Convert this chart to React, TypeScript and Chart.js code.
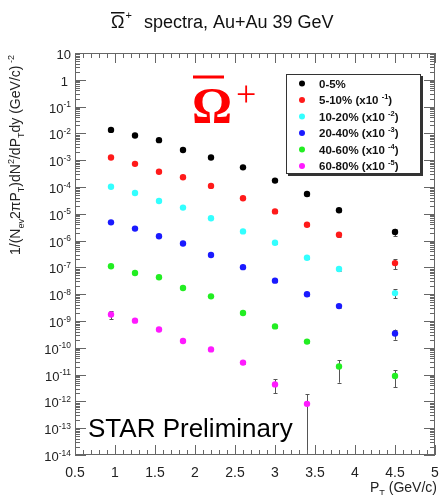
import React, { useEffect, useRef } from "react";
import { Chart, registerables } from "chart.js";

Chart.register(...registerables);

// ---------- data ----------
const PT = [0.95, 1.25, 1.55, 1.85, 2.2, 2.6, 3.0, 3.4, 3.8, 4.5];

const CENT_0_5 = [1.35e-2, 8.3e-3, 5.6e-3, 2.4e-3, 1.26e-3, 5.4e-4, 1.73e-4, 5.5e-5, 1.35e-5, 2.1e-6];
const CENT_0_5_ERR = [0, 0, 0, 0, 0, 0, 2.0e-5, 7e-6, 1.5e-6, 0.65e-6];

const CENT_5_10 = [1.26e-3, 7.3e-4, 3.7e-4, 2.3e-4, 1.1e-4, 3.8e-5, 1.23e-5, 3.9e-6, 1.66e-6, 1.45e-7];
const CENT_5_10_ERR = [0, 0, 0, 0, 0, 0, 1.2e-6, 4e-7, 2.5e-7, 0.6e-7];

const CENT_10_20 = [1.02e-4, 6.0e-5, 3.0e-5, 1.7e-5, 6.8e-6, 2.2e-6, 8.3e-7, 2.3e-7, 8.7e-8, 1.1e-8];
const CENT_10_20_ERR = [0, 0, 0, 0, 0, 0, 0.8e-7, 2.5e-8, 1.2e-8, 0.4e-8];

const CENT_20_40 = [4.8e-6, 2.8e-6, 1.45e-6, 7.8e-7, 2.9e-7, 1.02e-7, 3.2e-8, 1.0e-8, 3.6e-9, 3.4e-10];
const CENT_20_40_ERR = [0, 0, 0, 0, 0, 0, 3e-9, 1.2e-9, 5e-10, 1.4e-10];

const CENT_40_60 = [1.1e-7, 6.2e-8, 4.3e-8, 1.7e-8, 8.3e-9, 2.0e-9, 6.3e-10, 1.7e-10, 2.0e-11, 8.9e-12];
const CENT_40_60_ERR = [0, 0, 0, 0, 0, 0, 6e-11, 2.5e-11, 1.5e-11, 5.5e-12];

const CENT_60_80 = [1.74e-9, 1.03e-9, 4.8e-10, 1.8e-10, 8.7e-11, 2.8e-11, 4.3e-12, 8.1e-13];
const CENT_60_80_ERR = [0.6e-9, 0, 0, 0, 0, 0.4e-11, 2.3e-12, 1.05e-12];

const SERIES_LABELS = ["0-5%", "5-10% (x10", "10-20% (x10", "20-40% (x10", "40-60% (x10", "60-80% (x10"];
const SERIES_EXPONENTS = ["", "-1", "-2", "-3", "-4", "-5"];
const SERIES_COLORS = ["#000000", "#ff1a1a", "#33ffff", "#1a1aff", "#22ee22", "#ff1aff"];

const X_TICKS = [0.5, 1, 1.5, 2, 2.5, 3, 3.5, 4, 4.5, 5];
const X_TICK_LABELS = ["0.5", "1", "1.5", "2", "2.5", "3", "3.5", "4", "4.5", "5"];
const Y_EXPONENTS = [1, 0, -1, -2, -3, -4, -5, -6, -7, -8, -9, -10, -11, -12, -13, -14];

const TITLE_TEXT = " spectra, Au+Au 39 GeV";
const WATERMARK = "STAR Preliminary";

// ---------- helpers ----------
type Seg = { t: string; k?: "sup" | "sub" };

const SANS = '"Liberation Sans", Arial, sans-serif';
const SERIF = '"Liberation Serif", "Times New Roman", serif';

function segFont(size: number, weight: string, fam: string, k?: string) {
  const s = k ? size * 0.65 : size;
  return `${weight} ${s}px ${fam}`;
}

function richWidth(ctx: CanvasRenderingContext2D, segs: Seg[], size: number, weight: string, fam: string) {
  let w = 0;
  for (const s of segs) {
    ctx.font = segFont(size, weight, fam, s.k);
    w += ctx.measureText(s.t).width;
  }
  return w;
}

function drawRich(
  ctx: CanvasRenderingContext2D,
  segs: Seg[],
  x: number,
  y: number,
  size: number,
  align: "left" | "right" | "center",
  weight: string,
  fam: string,
  color: string
) {
  const w = richWidth(ctx, segs, size, weight, fam);
  let cx = align === "left" ? x : align === "right" ? x - w : x - w / 2;
  ctx.fillStyle = color;
  ctx.textAlign = "left";
  ctx.textBaseline = "alphabetic";
  for (const s of segs) {
    ctx.font = segFont(size, weight, fam, s.k);
    const dy = s.k === "sup" ? -size * 0.42 : s.k === "sub" ? size * 0.25 : 0;
    ctx.fillText(s.t, cx, y + dy);
    cx += ctx.measureText(s.t).width;
  }
}

const ERRS = [CENT_0_5_ERR, CENT_5_10_ERR, CENT_10_20_ERR, CENT_20_40_ERR, CENT_40_60_ERR, CENT_60_80_ERR];

const decorPlugin = {
  id: "rootDecor",
  beforeDatasetsDraw(chart: any) {
    const ctx: CanvasRenderingContext2D = chart.ctx;
    const { left, right, top, bottom } = chart.chartArea;
    const xs = chart.scales.x;
    const ys = chart.scales.y;
    ctx.save();
    ctx.beginPath();
    ctx.rect(left, top, right - left, bottom - top);
    ctx.clip();
    ctx.strokeStyle = "#555555";
    ctx.lineWidth = 1;
    chart.data.datasets.forEach((ds: any, i: number) => {
      const errs = ERRS[i];
      ds.data.forEach((p: any, j: number) => {
        const e = errs[j];
        if (!e) return;
        const px = Math.round(xs.getPixelForValue(p.x)) + 0.5;
        const yHi = ys.getPixelForValue(p.y + e);
        const yLo = p.y - e > 0 ? ys.getPixelForValue(p.y - e) : bottom + 2;
        ctx.beginPath();
        ctx.moveTo(px, yHi);
        ctx.lineTo(px, yLo);
        ctx.moveTo(px - 2, Math.round(yHi) + 0.5);
        ctx.lineTo(px + 2, Math.round(yHi) + 0.5);
        if (p.y - e > 0) {
          ctx.moveTo(px - 2, Math.round(yLo) + 0.5);
          ctx.lineTo(px + 2, Math.round(yLo) + 0.5);
        }
        ctx.stroke();
      });
    });
    ctx.restore();
  },
  afterDraw(chart: any) {
    const ctx: CanvasRenderingContext2D = chart.ctx;
    const { left, right, top, bottom } = chart.chartArea;
    const xs = chart.scales.x;
    const ys = chart.scales.y;
    ctx.save();

    // frame
    ctx.strokeStyle = "#666666";
    ctx.lineWidth = 1;
    ctx.strokeRect(left + 0.5, top + 0.5, right - left - 1, bottom - top - 1);

    // x ticks (bottom and top, pointing inward)
    ctx.beginPath();
    for (let k = 0; k <= 45; k++) {
      const v = 0.5 + k * 0.1;
      const major = k % 5 === 0;
      const len = major ? 10 : 5;
      const px = Math.round(xs.getPixelForValue(v)) + 0.5;
      ctx.moveTo(px, bottom);
      ctx.lineTo(px, bottom - len);
      ctx.moveTo(px, top);
      ctx.lineTo(px, top + len);
    }
    // y ticks (left and right, pointing inward)
    for (let e = -14; e <= 0; e++) {
      for (let m = 1; m <= 9; m++) {
        const v = m * Math.pow(10, e);
        const py = Math.round(ys.getPixelForValue(v)) + 0.5;
        const len = m === 1 ? 11 : 5;
        ctx.moveTo(left, py);
        ctx.lineTo(left + len, py);
        ctx.moveTo(right, py);
        ctx.lineTo(right - len, py);
      }
    }
    ctx.stroke();

    // y tick labels
    Y_EXPONENTS.forEach((e) => {
      const py = ys.getPixelForValue(Math.pow(10, e));
      let segs: Seg[];
      if (e === 1) segs = [{ t: "10" }];
      else if (e === 0) segs = [{ t: "1" }];
      else segs = [{ t: "10" }, { t: String(e), k: "sup" }];
      drawRich(ctx, segs, e === 0 ? 68 : 71, py + 6, 13, "right", "normal", SANS, "#222222");
    });

    // x tick labels
    ctx.font = `14px ${SANS}`;
    ctx.fillStyle = "#222222";
    ctx.textAlign = "center";
    ctx.textBaseline = "alphabetic";
    X_TICKS.forEach((v, i) => {
      ctx.fillText(X_TICK_LABELS[i], xs.getPixelForValue(v), 477);
    });

    // x axis title
    drawRich(ctx, [{ t: "P" }, { t: "T", k: "sub" }, { t: " (GeV/c)" }], 437, 492, 14, "right", "normal", SANS, "#222222");

    // y axis title (rotated)
    ctx.save();
    ctx.translate(20, 155);
    ctx.rotate(-Math.PI / 2);
    drawRich(
      ctx,
      [
        { t: "1/(N" },
        { t: "ev", k: "sub" },
        { t: "2\u03c0P" },
        { t: "T", k: "sub" },
        { t: ")dN" },
        { t: "2", k: "sup" },
        { t: "/dP" },
        { t: "T", k: "sub" },
        { t: "dy (GeV/c)" },
        { t: " -2", k: "sup" },
      ],
      0,
      0,
      14,
      "center",
      "normal",
      SANS,
      "#222222"
    );
    ctx.restore();

    // title
    ctx.fillStyle = "#111111";
    ctx.font = `18px ${SANS}`;
    ctx.textAlign = "left";
    ctx.textBaseline = "alphabetic";
    ctx.fillText("\u03a9", 111, 28);
    const ow = ctx.measureText("\u03a9").width;
    ctx.fillRect(111, 12, ow, 1.5);
    ctx.font = `11px ${SANS}`;
    ctx.fillText("+", 111 + ow + 1, 19);
    ctx.font = `18px ${SANS}`;
    ctx.fillText(TITLE_TEXT, 139, 28);

    // big red Omega label
    ctx.fillStyle = "#ff0000";
    ctx.font = `bold 50px ${SERIF}`;
    ctx.textAlign = "left";
    ctx.fillText("\u03a9", 192, 122);
    const bw = ctx.measureText("\u03a9").width;
    ctx.fillRect(193, 75.5, 31, 3);
    ctx.font = `36px ${SERIF}`;
    ctx.fillText("+", 192 + bw + 4, 106);

    // legend box
    const lx = 286, ly = 74, lw = 135, lh = 100;
    ctx.fillStyle = "#333333";
    ctx.fillRect(lx + 2, ly + 2, lw, lh);
    ctx.fillStyle = "#ffffff";
    ctx.fillRect(lx, ly, lw, lh);
    ctx.strokeStyle = "#333333";
    ctx.lineWidth = 1;
    ctx.strokeRect(lx + 0.5, ly + 0.5, lw - 1, lh - 1);
    SERIES_LABELS.forEach((lab, i) => {
      const ry = 83.5 + i * 16.5;
      ctx.fillStyle = SERIES_COLORS[i];
      ctx.beginPath();
      ctx.arc(302, ry, 3, 0, Math.PI * 2);
      ctx.fill();
      const segs: Seg[] = SERIES_EXPONENTS[i]
        ? [{ t: lab + " " }, { t: SERIES_EXPONENTS[i], k: "sup" }, { t: ")" }]
        : [{ t: lab }];
      drawRich(ctx, segs, 319, ry + 4, 11.5, "left", "bold", SANS, "#111111");
    });

    // watermark
    ctx.fillStyle = "#000000";
    ctx.font = `26px ${SANS}`;
    ctx.textAlign = "left";
    ctx.fillText(WATERMARK, 88, 437);

    ctx.restore();
  },
};

export default function App() {
  const ref = useRef<HTMLCanvasElement | null>(null);
  useEffect(() => {
    if (!ref.current) return;
    const series = [CENT_0_5, CENT_5_10, CENT_10_20, CENT_20_40, CENT_40_60, CENT_60_80];
    const chart = new Chart(ref.current, {
      type: "scatter",
      data: {
        datasets: series.map((vals, i) => ({
          label: SERIES_LABELS[i] + (SERIES_EXPONENTS[i] ? " " + SERIES_EXPONENTS[i] + ")" : ""),
          data: vals.map((v, j) => ({ x: PT[j], y: v })),
          pointRadius: 3.2,
          pointBackgroundColor: SERIES_COLORS[i],
          pointBorderColor: SERIES_COLORS[i],
          pointBorderWidth: 0,
          showLine: false,
        })),
      },
      options: {
        animation: false,
        responsive: true,
        maintainAspectRatio: false,
        layout: { padding: { left: 75, right: 13, top: 53, bottom: 40 } },
        plugins: { legend: { display: false }, tooltip: { enabled: false }, title: { display: false } },
        scales: {
          x: { type: "linear", min: 0.5, max: 5, display: false },
          y: { type: "logarithmic", min: 1e-14, max: 10, display: false },
        },
      },
      plugins: [decorPlugin],
    });
    return () => chart.destroy();
  }, []);
  return (
    <div style={{ position: "fixed", left: 0, top: 0, width: 448, height: 495, background: "#fff" }}>
      <canvas ref={ref} />
    </div>
  );
}
